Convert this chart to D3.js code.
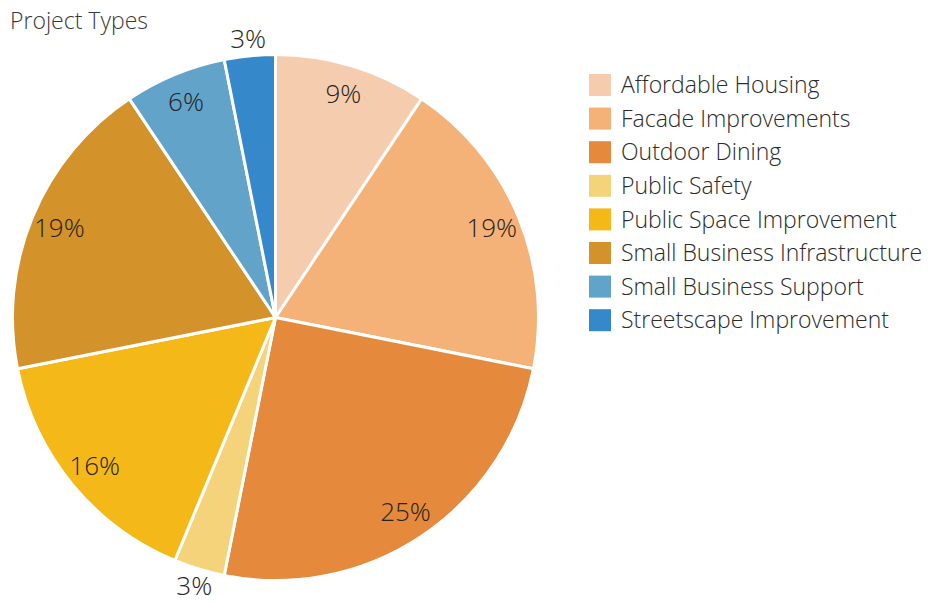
<!DOCTYPE html>
<html>
<head>
<meta charset="utf-8">
<script src="https://cdn.jsdelivr.net/npm/d3@7"></script>
<style>
  body { margin: 0; background: #fff; }
  svg text { font-family: "Segoe UI", "Open Sans", sans-serif; font-weight: 300; }
</style>
</head>
<body>
<script>
// project counts per type (percent labels come from these)
const categories = ["Affordable Housing", "Facade Improvements", "Outdoor Dining", "Public Safety",
                    "Public Space Improvement", "Small Business Infrastructure", "Small Business Support",
                    "Streetscape Improvement"];
const counts = [3, 6, 8, 1, 5, 6, 2, 1];
const colors = ["#F5CDAE", "#F4B279", "#E5893C", "#F5D37B", "#F5B819", "#D4922A", "#62A3CA", "#3588C9"];
const outsideLabel = [false, false, false, true, false, false, false, true];

const width = 932, height = 603;
const cx = 275.5, cy = 317.5, radius = 263;

const svg = d3.select("body").append("svg")
    .attr("width", width)
    .attr("height", height);

// title
svg.append("text")
    .attr("x", 10).attr("y", 29)
    .style("font-size", "23px")
    .attr("fill", "#3a3a3a")
    .text("Project Types");

const total = d3.sum(counts);
const pie = d3.pie().sort(null).value(d => d.value);
const arcs = pie(categories.map((c, i) => ({name: c, value: counts[i], i: i})));

const arc = d3.arc().innerRadius(0).outerRadius(radius);
const labelIn = d3.arc().innerRadius(234).outerRadius(234);
const labelOut = d3.arc().innerRadius(280).outerRadius(280);

const g = svg.append("g").attr("transform", "translate(" + cx + "," + cy + ")");

g.selectAll("path.slice")
    .data(arcs)
    .enter()
    .append("path")
    .attr("class", "slice")
    .attr("d", arc)
    .attr("fill", d => colors[d.data.i])
    .attr("stroke", "#fff")
    .attr("stroke-width", 3)
    .attr("stroke-linejoin", "round");

g.selectAll("text.pct")
    .data(arcs)
    .enter()
    .append("text")
    .attr("class", "pct")
    .attr("transform", d => "translate(" + (outsideLabel[d.data.i] ? labelOut : labelIn).centroid(d) + ")")
    .attr("text-anchor", "middle")
    .attr("dy", "0.36em")
    .style("font-size", "26px")
    .attr("fill", "#252423")
    .text(d => Math.round(d.data.value / total * 100) + "%");

// legend
const legend = svg.append("g").attr("transform", "translate(589,85)");
const rowH = 33.6;

const item = legend.selectAll("g")
    .data(categories)
    .enter()
    .append("g")
    .attr("transform", (d, i) => "translate(0," + (i * rowH) + ")");

item.append("rect")
    .attr("x", 0).attr("y", -11)
    .attr("width", 22).attr("height", 22)
    .attr("fill", (d, i) => colors[i]);

item.append("text")
    .attr("x", 32)
    .attr("dy", "0.36em")
    .style("font-size", "23px")
    .attr("fill", "#2b2b2b")
    .text(d => d);
</script>
</body>
</html>
